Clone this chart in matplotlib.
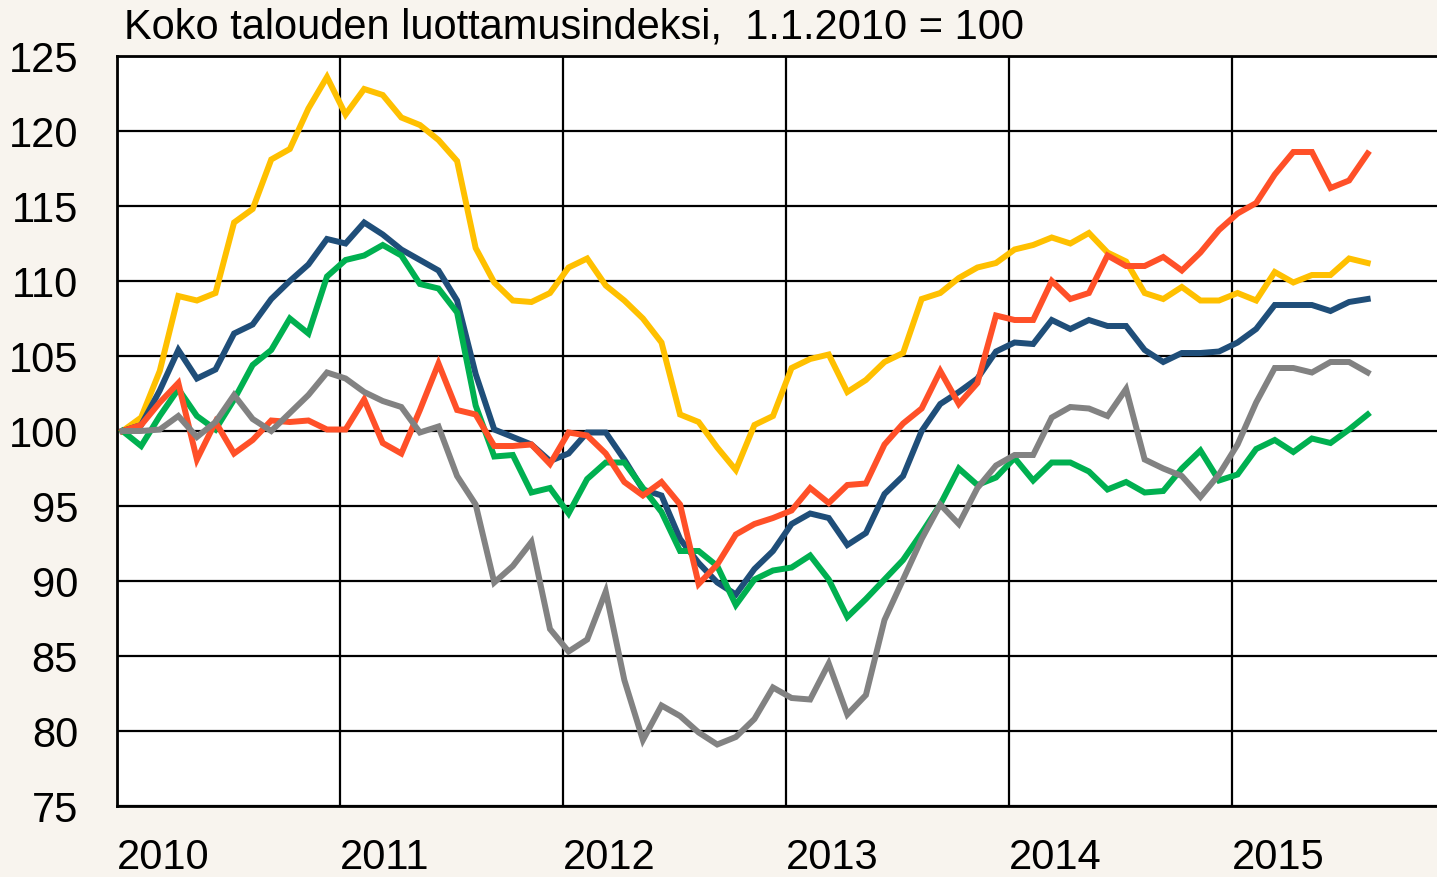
import numpy as np
import matplotlib.pyplot as plt

# monthly index values, Jan 2010 .. Aug 2015 (1.1.2010 = 100)
yellow = [100, 100.9, 104.0, 109.0, 108.7, 109.2, 113.9, 114.8, 118.1, 118.8,
          121.5, 123.6, 121.1, 122.8, 122.4, 120.9, 120.4, 119.4, 118.0, 112.2,
          109.9, 108.7, 108.6, 109.2, 110.9, 111.5, 109.7, 108.7, 107.5, 105.9,
          101.1, 100.6, 98.9, 97.4, 100.4, 101.0, 104.2, 104.8, 105.1, 102.6,
          103.4, 104.6, 105.2, 108.8, 109.2, 110.2, 110.9, 111.2, 112.1, 112.4,
          112.9, 112.5, 113.2, 111.9, 111.3, 109.2, 108.8, 109.6, 108.7, 108.7,
          109.2, 108.7, 110.6, 109.9, 110.4, 110.4, 111.5, 111.2]
blue = [100, 100.4, 102.7, 105.4, 103.5, 104.1, 106.5, 107.1, 108.8, 110.0,
        111.1, 112.8, 112.5, 113.9, 113.1, 112.1, 111.4, 110.7, 108.7, 103.8,
        100.1, 99.6, 99.1, 98.0, 98.5, 99.9, 99.9, 98.1, 96.1, 95.7,
        92.8, 91.2, 89.9, 89.1, 90.8, 92.0, 93.8, 94.5, 94.2, 92.4,
        93.2, 95.8, 97.0, 100.0, 101.8, 102.6, 103.5, 105.3, 105.9, 105.8,
        107.4, 106.8, 107.4, 107.0, 107.0, 105.4, 104.6, 105.2, 105.2, 105.3,
        105.9, 106.8, 108.4, 108.4, 108.4, 108.0, 108.6, 108.8]
green = [100, 99.0, 101.0, 102.8, 101.0, 100.1, 102.1, 104.4, 105.4, 107.5,
         106.5, 110.3, 111.4, 111.7, 112.4, 111.7, 109.8, 109.5, 107.9, 101.7,
         98.3, 98.4, 95.9, 96.2, 94.5, 96.8, 97.9, 97.9, 96.2, 94.6,
         92.0, 92.0, 91.0, 88.4, 90.1, 90.7, 90.9, 91.7, 90.1, 87.6,
         88.8, 90.1, 91.4, 93.2, 95.1, 97.5, 96.4, 96.9, 98.2, 96.7,
         97.9, 97.9, 97.3, 96.1, 96.6, 95.9, 96.0, 97.5, 98.7, 96.7,
         97.1, 98.8, 99.4, 98.6, 99.5, 99.2, 100.1, 101.1]
red = [100, 100.4, 101.9, 103.2, 98.1, 100.6, 98.5, 99.4, 100.7, 100.6,
       100.7, 100.1, 100.1, 102.1, 99.2, 98.5, 101.4, 104.5, 101.4, 101.1,
       99.0, 99.0, 99.1, 97.8, 99.9, 99.7, 98.5, 96.6, 95.7, 96.6,
       95.1, 89.8, 91.1, 93.1, 93.8, 94.2, 94.7, 96.2, 95.2, 96.4,
       96.5, 99.1, 100.5, 101.5, 104.0, 101.8, 103.2, 107.7, 107.4, 107.4,
       110.0, 108.8, 109.2, 111.7, 111.0, 111.0, 111.6, 110.7, 111.9, 113.4,
       114.5, 115.2, 117.1, 118.6, 118.6, 116.2, 116.7, 118.5]
gray = [100, 100.0, 100.1, 101.0, 99.6, 100.6, 102.4, 100.8, 100.0, 101.2,
        102.4, 103.9, 103.5, 102.6, 102.0, 101.6, 99.9, 100.3, 97.0, 95.1,
        89.9, 91.0, 92.6, 86.8, 85.3, 86.1, 89.3, 83.4, 79.4, 81.7,
        81.0, 79.9, 79.1, 79.6, 80.8, 82.9, 82.2, 82.1, 84.5, 81.1,
        82.4, 87.4, 90.1, 92.8, 95.1, 93.8, 96.2, 97.7, 98.4, 98.4,
        100.9, 101.6, 101.5, 101.0, 102.8, 98.1, 97.5, 97.0, 95.6, 97.1,
        99.1, 101.9, 104.2, 104.2, 103.9, 104.6, 104.6, 103.9]

years = [2010, 2011, 2012, 2013, 2014, 2015]
title = "Koko talouden luottamusindeksi,  1.1.2010 = 100"

months = np.arange(len(yellow))
x = 2010 + (months + 0.3) / 12

plt.rcParams['font.family'] = ['Liberation Sans', 'DejaVu Sans']

fig = plt.figure(figsize=(14.37, 8.78), dpi=100)
fig.patch.set_facecolor('#f8f4ee')
ax = fig.add_axes([117 / 1437, 71 / 878, 1 - 117 / 1437, 750 / 878])
ax.set_facecolor('white')

series = [(yellow, '#ffc000'), (blue, '#1f4e79'), (green, '#00b050'),
          (red, '#ff5028'), (gray, '#828282')]
for vals, col in series:
    ax.plot(x, vals, color=col, lw=4.3, solid_joinstyle='miter', zorder=3)

ax.set_xlim(2010, 2010 + 1320 / 223)
ax.set_ylim(75, 125)
ax.set_yticks(np.arange(75, 126, 5))
ax.set_xticks(years)
ax.set_xticklabels([str(y) for y in years], ha='left')
ax.grid(True, color='black', lw=1.6, zorder=1)
ax.tick_params(length=0, labelsize=30, colors='black')
ax.tick_params(axis='y', pad=28)
ax.tick_params(axis='x', pad=22)
for s in ['left', 'bottom', 'top']:
    ax.spines[s].set_color('black')
    ax.spines[s].set_linewidth(2)
ax.spines['right'].set_visible(False)

fig.text(124 / 1437, 1 - 28 / 878, title, fontsize=30, va='center', ha='left')

fig.savefig('out.png', dpi=100, facecolor=fig.get_facecolor())
